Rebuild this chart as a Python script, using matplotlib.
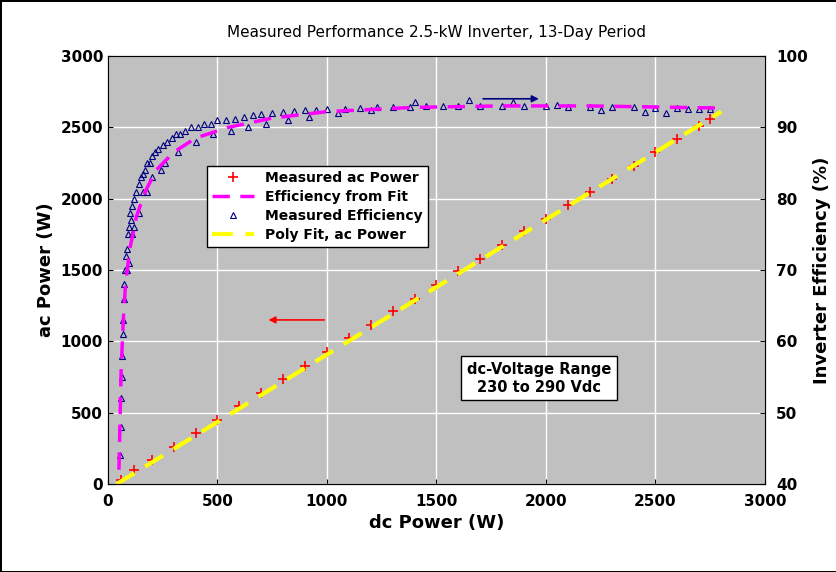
import matplotlib.pyplot as plt

# measured efficiency scatter (dc W, %)
eff_dc = [55, 58, 60, 62, 65, 68, 70, 72, 75, 78, 80, 85, 90, 95, 100, 105, 110, 120, 130, 140,
          150, 160, 170, 180, 190, 200, 215, 230, 250, 270, 290, 310, 330, 350, 380, 410, 440,
          470, 500, 540, 580, 620, 660, 700, 750, 800, 850, 900, 950, 1000, 1080, 1150, 1230,
          1300, 1380, 1450, 1530, 1600, 1700, 1800, 1900, 2000, 2100, 2200, 2300, 2400, 2500,
          2600, 2650, 2700, 2750, 120, 160, 200, 260, 320, 400, 480, 560, 640, 720, 820, 920,
          1050, 1200, 1400, 1650, 1850, 2050, 2250, 2450, 2550, 85, 95, 110, 140, 180, 240]
eff_pct = [44, 48, 52, 55, 58, 61, 63, 66, 68, 70, 72, 73, 75, 76, 78, 77, 79, 80, 81, 82,
           83, 83.5, 84, 85, 85, 86, 86.5, 87, 87.5, 88, 88.5, 89, 89, 89.5, 90, 90, 90.5,
           90.5, 91, 91, 91.2, 91.5, 91.7, 91.8, 92, 92.2, 92.3, 92.4, 92.5, 92.6, 92.6, 92.7, 92.8,
           92.8, 92.9, 93, 93, 93, 93, 93, 93, 93, 92.9, 92.9, 92.8, 92.8, 92.7,
           92.7, 92.6, 92.6, 92.6, 76, 81, 83, 85, 86.5, 88, 89, 89.5, 90, 90.5, 91, 91.5, 92, 92.5,
           93.5, 93.8, 93.5, 93.2, 92.4, 92.2, 92.0, 70, 71, 75, 78, 81, 84]

# efficiency from fit (dc W, %)
fit_dc = [50, 55, 60, 70, 80, 100, 130, 170, 220, 300, 400, 550, 750, 1000, 1400, 1800, 2200, 2600, 2800]
fit_pct = [42, 49, 56, 63, 68, 73, 77.5, 81, 84, 86.5, 88.5, 90, 91.3, 92.2, 92.8, 93, 93, 92.8, 92.7]

# ac power (dc W, ac W)
ac_dc = [60, 120, 200, 300, 400, 500, 600, 700, 800, 900, 1000, 1100, 1200, 1300, 1400, 1500,
         1600, 1700, 1800, 1900, 2000, 2100, 2200, 2300, 2400, 2500, 2600, 2700, 2750]
ac_w = [25, 95, 170, 260, 355, 450, 545, 640, 735, 830, 925, 1020, 1115, 1210, 1300, 1395,
        1490, 1580, 1675, 1770, 1860, 1955, 2045, 2140, 2230, 2325, 2415, 2510, 2555]
poly_dc = [40, 2800]
poly_w = [0, 2610]

fig = plt.figure(figsize=(8.37, 5.72), dpi=100)
fig.patch.set_edgecolor('black')
fig.patch.set_linewidth(2)
ax = fig.add_axes([108 / 837, 1 - 484 / 572, (765 - 108) / 837, (484 - 56) / 572])
ax.set_facecolor('#c0c0c0')
ax2 = ax.twinx()

l1, = ax.plot(ac_dc, ac_w, '+', color='red', ms=7, mew=1.2, label='Measured ac Power', zorder=3)
l4, = ax.plot(poly_dc, poly_w, '--', color='yellow', lw=3, dashes=(5, 3), label='Poly Fit, ac Power', zorder=4)
l3, = ax2.plot(eff_dc, eff_pct, '^', mfc='none', mec='navy', ms=4, mew=0.8, label='Measured Efficiency')
l2, = ax2.plot(fit_dc, fit_pct, '--', color='magenta', lw=2.5, dashes=(5, 3), label='Efficiency from Fit')

ax.set_xlim(0, 3000)
ax.set_ylim(0, 3000)
ax2.set_ylim(40, 100)
ax.grid(True, color='white', lw=1)
ax.set_axisbelow(True)
ax.set_xticks(range(0, 3001, 500))
ax.set_yticks(range(0, 3001, 500))
ax.tick_params(labelsize=11, direction='in')
ax.tick_params(axis='x', pad=7)
ax2.tick_params(labelsize=11, direction='in', pad=8)
for a in (ax, ax2):
    for lab in a.get_xticklabels() + a.get_yticklabels():
        lab.set_fontweight('bold')
ax.set_xlabel('dc Power (W)', fontsize=13, fontweight='bold')
ax.set_ylabel('ac Power (W)', fontsize=13, fontweight='bold')
ax2.set_ylabel('Inverter Efficiency (%)', fontsize=13, fontweight='bold')
ax.set_title('Measured Performance 2.5-kW Inverter, 13-Day Period', fontsize=11, pad=14)

leg = ax2.legend(handles=[l1, l2, l3, l4], loc='upper left', bbox_to_anchor=(0.14, 0.76),
                 fancybox=False, edgecolor='black', framealpha=1, prop={'size': 10, 'weight': 'bold'},
                 handlelength=3, labelspacing=0.35)

ax.annotate('', xy=(1980, 2700), xytext=(1700, 2700),
            arrowprops=dict(arrowstyle='-|>', color='navy', lw=1.2))
ax.annotate('', xy=(720, 1150), xytext=(1000, 1150),
            arrowprops=dict(arrowstyle='-|>', color='red', lw=1.2))
ax.text(1970, 740, 'dc-Voltage Range\n230 to 290 Vdc', ha='center', va='center', fontsize=10.5,
        fontweight='bold', bbox=dict(boxstyle='square,pad=0.4', fc='white', ec='black'))

fig.savefig('out.png', dpi=100, edgecolor=fig.get_edgecolor())
